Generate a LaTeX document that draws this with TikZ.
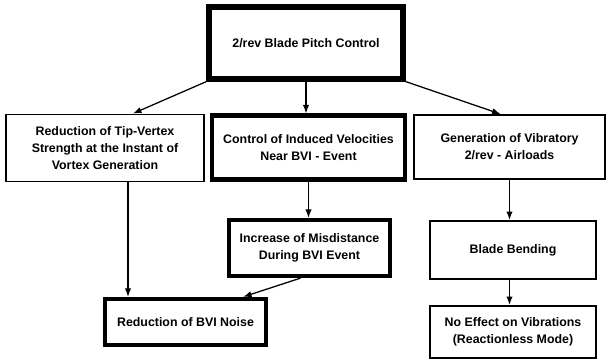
\documentclass[tikz,border=0pt]{standalone}
\usepackage{fontspec}
\setmainfont{Liberation Sans}
\usetikzlibrary{arrows.meta}

\def\px{0.025cm}

\begin{document}
\begin{tikzpicture}[x=\px, y=-\px,
    box/.style={shape=rectangle, draw=black, line width=1.4pt, align=center,
                font=\fontsize{8.8}{12}\selectfont\bfseries, inner sep=2pt},
    thickbox/.style={box, line width=3pt},
    link/.style={-{Latex[length=6pt,width=4.5pt]}, line width=0.9pt}]

    \useasboundingbox (0,0) rectangle (610,362);

    %%   (lable)  (x, y)     {\text}
    \node[thickbox, line width=3.6pt, minimum width=194*\px, minimum height=72*\px] (P) at (306, 43) {2/rev Blade Pitch Control};

    \node[box,      minimum width=198*\px, minimum height=67*\px] (A) at (105.0, 148.0) {Reduction of Tip-Vertex\\Strength at the Instant of\\Vortex Generation};
    \node[thickbox, minimum width=193*\px, minimum height=64*\px] (B) at (308.5, 147.5) {Control of Induced Velocities\\Near BVI - Event};
    \node[box,      minimum width=191*\px, minimum height=64*\px] (C) at (509.5, 147.0) {Generation of Vibratory\\2/rev - Airloads};

    \node[thickbox, minimum width=161*\px, minimum height=56*\px] (D) at (309.5, 248.0) {Increase of Misdistance\\During BVI Event};
    \node[thickbox, minimum width=161*\px, minimum height=46*\px] (E) at (185.5, 322.0) {Reduction of BVI Noise};

    \node[box,      minimum width=166*\px, minimum height=58*\px] (F) at (513.0, 250.0) {Blade Bending};
    \node[box,      minimum width=166*\px, minimum height=52*\px] (G) at (513.0, 332.0) {No Effect on Vibrations\\(Reactionless Mode)};

    \path[link] (P.south west) edge ([xshift=28*\px]A.north);
    \path[link] (P.south)      edge (P.south |- B.north);
    \path[link] (P.south east) edge ([xshift=-9*\px]C.north);
    %
    \path[link] ([xshift=23*\px]A.south) edge ([xshift=23*\px]A.south |- E.north);
    \path[link] (B.south)                edge (B.south |- D.north);
    \path[link] ([xshift=-9*\px]D.south) edge ([xshift=-25*\px]E.north east);
    %
    \path[link] (C.south)                edge (C.south |- F.north);
    \path[link] (C.south |- F.south)     edge (C.south |- G.north);

  \end{tikzpicture}
\end{document}
